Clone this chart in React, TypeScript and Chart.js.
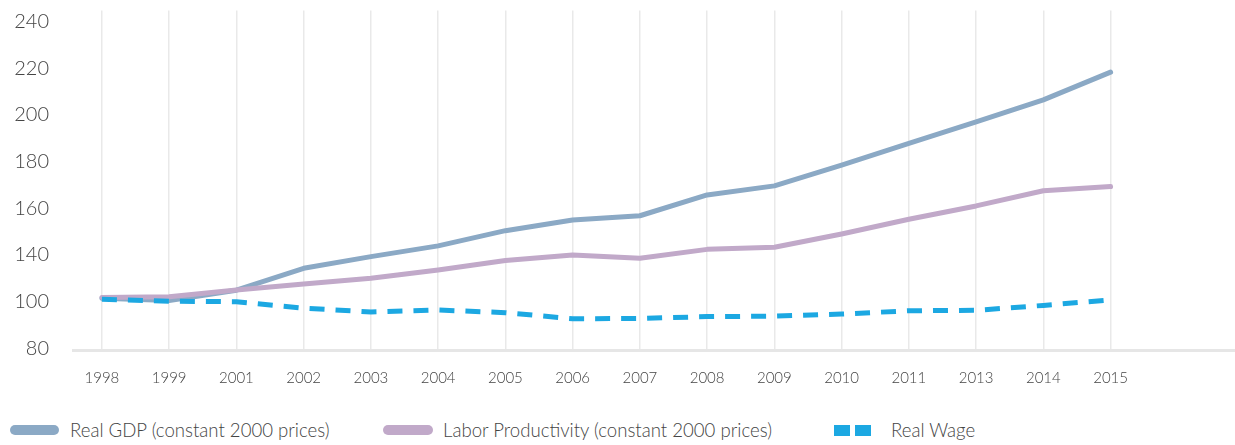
import React, { useEffect, useRef } from 'react';
import { Chart, registerables, LinearScale } from 'chart.js';

Chart.register(...registerables);

// ---- data ----
const years = ['1998', '1999', '2001', '2002', '2003', '2004', '2005', '2006', '2007', '2008', '2009', '2010', '2011', '2013', '2014', '2015'];
const realGdp = [103, 101, 109.8, 128.6, 138.6, 143.9, 150.4, 155, 156.8, 165.7, 169.6, 178.5, 187.8, 197, 206.4, 218.3];
const laborProductivity = [103.5, 104.3, 110, 115.2, 120.1, 127.2, 135.2, 140, 137.2, 142.4, 143.3, 149, 155.3, 161, 167.5, 169.3];
const realWage = [102, 100.3, 100, 97.2, 95.6, 96.4, 95.3, 92.7, 92.8, 93.6, 93.8, 94.7, 96.1, 96.3, 98.4, 101.5];
const yTickValues = [80, 100, 140, 160, 180, 200, 220, 240];

const seriesNames = ['Real GDP (constant 2000 prices)', 'Labor Productivity (constant 2000 prices)', 'Real Wage'];
const seriesColors = ['#8ba9c5', '#c1a9c9', '#1ca8e2'];

// y axis whose tick labels are evenly spaced even where their values are not
class EvenTickScale extends LinearScale {
  static id = 'evenTick';
  static defaults = LinearScale.defaults;

  toIdx(v: number) {
    const t = yTickValues;
    if (v <= t[0]) return (v - t[0]) / (t[1] - t[0]);
    for (let i = 0; i < t.length - 1; i++) {
      if (v <= t[i + 1]) return i + (v - t[i]) / (t[i + 1] - t[i]);
    }
    const n = t.length - 1;
    return n + (v - t[n]) / (t[n] - t[n - 1]);
  }
  fromIdx(x: number) {
    const t = yTickValues;
    const n = t.length - 1;
    if (x <= 0) return t[0] + x * (t[1] - t[0]);
    if (x >= n) return t[n] + (x - n) * (t[n] - t[n - 1]);
    const i = Math.floor(x);
    return t[i] + (x - i) * (t[i + 1] - t[i]);
  }
  buildTicks() {
    return yTickValues.map((value) => ({ value }));
  }
  getPixelForValue(v: number) {
    if (v === null || v === undefined || isNaN(v)) return NaN;
    const a = this.toIdx(this.min);
    const b = this.toIdx(this.max);
    return this.getPixelForDecimal((this.toIdx(v) - a) / (b - a));
  }
  getValueForPixel(p: number) {
    const a = this.toIdx(this.min);
    const b = this.toIdx(this.max);
    return this.fromIdx(a + this.getDecimalForPixel(p) * (b - a));
  }
}
Chart.register(EvenTickScale);

const W = 1235;
const CH = 400;

export default function App() {
  const ref = useRef<HTMLCanvasElement | null>(null);

  useEffect(() => {
    if (!ref.current) return;
    const mk = (vals: number[]) => years.map((_, i) => ({ x: i, y: vals[i] }));
    const chart = new Chart(ref.current, {
      type: 'line',
      data: {
        datasets: [
          {
            label: seriesNames[0],
            data: mk(realGdp),
            borderColor: seriesColors[0],
            backgroundColor: seriesColors[0],
            borderWidth: 5,
            borderCapStyle: 'round',
            borderJoinStyle: 'round',
            pointRadius: 0,
            tension: 0,
            order: 2,
          },
          {
            label: seriesNames[1],
            data: mk(laborProductivity),
            borderColor: seriesColors[1],
            backgroundColor: seriesColors[1],
            borderWidth: 5,
            borderCapStyle: 'round',
            borderJoinStyle: 'round',
            pointRadius: 0,
            tension: 0,
            order: 1,
          },
          {
            label: seriesNames[2],
            data: mk(realWage),
            borderColor: seriesColors[2],
            backgroundColor: seriesColors[2],
            borderWidth: 5,
            borderDash: [15, 11],
            borderCapStyle: 'butt',
            pointRadius: 0,
            tension: 0,
            order: 0,
          },
        ],
      },
      options: {
        responsive: false,
        animation: false,
        devicePixelRatio: 1,
        layout: { padding: { top: 10.5, left: 0, right: 0, bottom: 0 } },
        plugins: { legend: { display: false }, tooltip: { enabled: false } },
        font: { family: 'Lato' },
        scales: {
          x: {
            type: 'linear',
            min: -0.43,
            max: 16.85,
            afterBuildTicks: (axis: any) => {
              axis.ticks = years.map((_, i) => ({ value: i }));
            },
            afterFit: (axis: any) => {
              axis.height = CH - 350.7;
              axis.paddingLeft = 0;
              axis.paddingRight = 0;
            },
            ticks: {
              autoSkip: false,
              maxRotation: 0,
              padding: 18,
              color: '#444',
              font: { family: 'Lato', size: 15, weight: '300' },
              callback: (v: any) => years[Math.round(Number(v))] ?? '',
            },
            grid: { color: '#e9e9e9', lineWidth: 1.5, drawTicks: false },
            border: { display: true, color: '#e6e6e6', width: 3 },
          },
          y: {
            type: 'evenTick' as any,
            min: 79,
            max: 244.7,
            afterFit: (axis: any) => {
              axis.width = 73;
              axis.paddingTop = 0;
              axis.paddingBottom = 0;
            },
            ticks: {
              padding: 24,
              color: '#444',
              font: { family: 'Lato', size: 20, weight: '300' },
              callback: (v: any) => String(v),
            },
            grid: { display: false, drawTicks: false },
            border: { display: false },
          },
        },
      } as any,
    });
    return () => chart.destroy();
  }, []);

  const textStyle: React.CSSProperties = {
    position: 'absolute',
    top: 420,
    fontFamily: 'Lato',
    fontWeight: 300,
    fontSize: 18.6,
    lineHeight: '21px',
    color: '#444',
    whiteSpace: 'nowrap',
  };

  return (
    <div style={{ position: 'absolute', left: 0, top: 0, width: W, height: 445, overflow: 'hidden', background: '#fff' }}>
      <canvas ref={ref} width={W} height={CH} style={{ display: 'block', width: W, height: CH }} />
      <div style={{ position: 'absolute', left: 10, top: 425, width: 49, height: 10, borderRadius: 5, background: seriesColors[0] }} />
      <span style={{ ...textStyle, left: 70 }}>{seriesNames[0]}</span>
      <div style={{ position: 'absolute', left: 383, top: 425, width: 50, height: 10, borderRadius: 5, background: seriesColors[1] }} />
      <span style={{ ...textStyle, left: 443 }}>{seriesNames[1]}</span>
      <div style={{ position: 'absolute', left: 834, top: 425, width: 16, height: 11, background: seriesColors[2] }} />
      <div style={{ position: 'absolute', left: 855, top: 425, width: 16, height: 11, background: seriesColors[2] }} />
      <span style={{ ...textStyle, left: 891 }}>{seriesNames[2]}</span>
    </div>
  );
}
